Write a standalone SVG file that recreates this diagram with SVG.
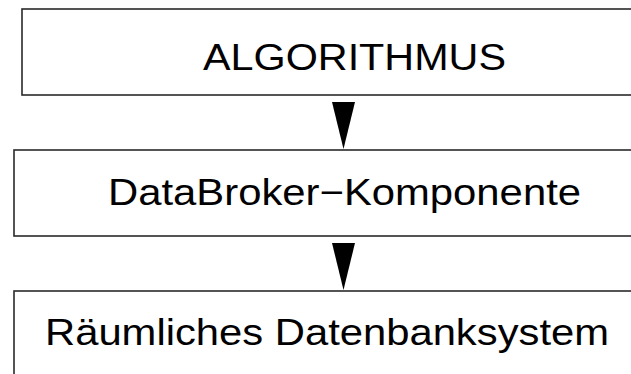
<svg xmlns="http://www.w3.org/2000/svg" width="631" height="374" viewBox="0 0 631 374">
  <style>
    .box { fill: #ffffff; stroke: #2a2a2a; stroke-width: 1.6; }
    .label { font-family: "Liberation Sans", Arial, sans-serif; font-size: 37px; fill: #000000; }
    .arrow { fill: #000000; stroke: none; }
  </style>
  <rect x="0" y="0" width="631" height="374" fill="#ffffff"/>

  <g id="algorithmus">
    <rect class="box" x="22" y="9" width="640" height="86"/>
    <text class="label" x="203" y="69.5" textLength="303" lengthAdjust="spacingAndGlyphs">ALGORITHMUS</text>
  </g>

  <g id="databroker">
    <rect class="box" x="14" y="150" width="650" height="86"/>
    <text class="label" x="108" y="205" textLength="473" lengthAdjust="spacingAndGlyphs">DataBroker−Komponente</text>
  </g>

  <g id="datenbanksystem">
    <rect class="box" x="14" y="291" width="650" height="120"/>
    <text class="label" x="45" y="344.5" textLength="564" lengthAdjust="spacingAndGlyphs">Räumliches Datenbanksystem</text>
  </g>

  <g id="connectors">
    <polygon class="arrow" points="332,102 355,102 343.5,149"/>
    <polygon class="arrow" points="332,243 355,243 343.5,290"/>
  </g>
</svg>
